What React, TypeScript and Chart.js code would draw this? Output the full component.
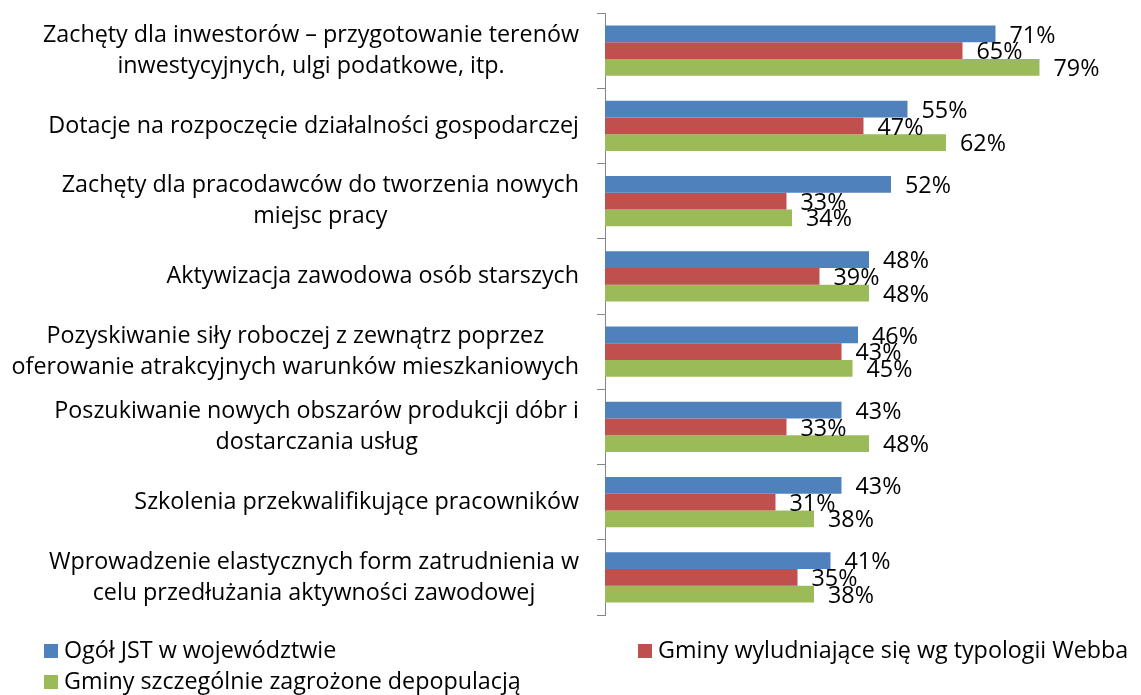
import React, { useEffect, useRef } from "react";
import { Chart, registerables } from "chart.js";

Chart.register(...registerables);

const categories: (string | string[])[] = [
  ["Zachęty dla inwestorów – przygotowanie terenów", "inwestycyjnych, ulgi podatkowe, itp."],
  "Dotacje na rozpoczęcie działalności gospodarczej",
  ["Zachęty dla pracodawców do tworzenia nowych", "miejsc pracy"],
  "Aktywizacja zawodowa osób starszych",
  ["Pozyskiwanie siły roboczej z zewnątrz poprzez", "oferowanie atrakcyjnych warunków mieszkaniowych"],
  ["Poszukiwanie nowych obszarów produkcji dóbr i", "dostarczania usług"],
  "Szkolenia przekwalifikujące pracowników",
  ["Wprowadzenie elastycznych form zatrudnienia w", "celu przedłużania aktywności zawodowej"],
];

const seriesNames = [
  "Ogół JST w województwie",
  "Gminy wyludniające się wg typologii Webba",
  "Gminy szczególnie zagrożone depopulacją",
];

const ogolJst = [71, 55, 52, 48, 46, 43, 43, 41];
const gminyWyludniajace = [65, 47, 33, 39, 43, 33, 31, 35];
const gminyZagrozone = [79, 62, 34, 48, 45, 48, 38, 38];

const seriesColors = ["#4F81BD", "#C0504D", "#9BBB59"];

const FONT_FAMILY = "'Open Sans', Lato, sans-serif";
const FONT_SIZE = 23.3;
const FONT = `${FONT_SIZE}px ${FONT_FAMILY}`;

const categoryLabelsPlugin = {
  id: "categoryLabels",
  afterDraw(chart: any) {
    const ctx = chart.ctx;
    const yScale = chart.scales.y;
    const right = chart.chartArea.left - 26;
    const lineH = 31;
    ctx.save();
    ctx.font = FONT;
    ctx.fillStyle = "#000";
    ctx.textAlign = "center";
    ctx.textBaseline = "middle";
    categories.forEach((lab, i) => {
      const lines = Array.isArray(lab) ? lab : [lab];
      const maxW = Math.max(...lines.map((l) => ctx.measureText(l).width));
      const cx = right - maxW / 2;
      const py = yScale.getPixelForValue(i);
      lines.forEach((l, j) => {
        const y = py + (j - (lines.length - 1) / 2) * lineH;
        ctx.fillText(l, cx, y);
      });
    });
    ctx.restore();
  },
};

const valueLabelsPlugin = {
  id: "valueLabels",
  afterDatasetsDraw(chart: any) {
    const ctx = chart.ctx;
    ctx.save();
    ctx.font = FONT;
    ctx.fillStyle = "#000";
    ctx.textAlign = "left";
    ctx.textBaseline = "middle";
    chart.data.datasets.forEach((ds: any, di: number) => {
      const meta = chart.getDatasetMeta(di);
      meta.data.forEach((el: any, i: number) => {
        ctx.fillText(`${ds.data[i]}%`, el.x + 14, el.y + 2);
      });
    });
    ctx.restore();
  },
};

const legendPlugin = {
  id: "customLegend",
  afterDraw(chart: any) {
    const ctx = chart.ctx;
    const positions = [
      { x: 44, y: 651 },
      { x: 638, y: 651 },
      { x: 44, y: 682 },
    ];
    ctx.save();
    ctx.font = FONT;
    ctx.textAlign = "left";
    ctx.textBaseline = "middle";
    chart.data.datasets.forEach((ds: any, di: number) => {
      const p = positions[di];
      ctx.fillStyle = ds.backgroundColor;
      ctx.fillRect(p.x, p.y - 7, 14, 14);
      ctx.fillStyle = "#000";
      ctx.fillText(ds.label, p.x + 20, p.y);
    });
    ctx.restore();
  },
};

export default function App() {
  const canvasRef = useRef<HTMLCanvasElement | null>(null);

  useEffect(() => {
    document.body.style.margin = "0";
    let chart: Chart | null = null;
    let cancelled = false;
    const build = () => {
      if (cancelled || !canvasRef.current) return;
      chart = new Chart(canvasRef.current, {
        type: "bar",
        data: {
          labels: categories as any,
          datasets: [
            { label: seriesNames[0], data: ogolJst, backgroundColor: seriesColors[0] },
            { label: seriesNames[1], data: gminyWyludniajace, backgroundColor: seriesColors[1] },
            { label: seriesNames[2], data: gminyZagrozone, backgroundColor: seriesColors[2] },
          ],
        },
        options: {
          indexAxis: "y",
          animation: false,
          responsive: false,
          maintainAspectRatio: false,
          events: [],
          layout: { padding: { top: 13, bottom: 80, left: 0, right: 41 } },
          datasets: {
            bar: { categoryPercentage: 0.667, barPercentage: 1, borderWidth: 0 },
          },
          plugins: {
            legend: { display: false },
            tooltip: { enabled: false },
            title: { display: false },
          },
          scales: {
            x: {
              display: false,
              min: 0,
              max: 90,
            },
            y: {
              type: "category",
              offset: true,
              afterFit(scale: any) {
                scale.width = 605;
              },
              ticks: { display: false },
              grid: {
                display: true,
                offset: true,
                drawOnChartArea: false,
                drawTicks: true,
                tickLength: 8,
                color: "#868686",
                lineWidth: 1,
              },
              border: { display: true, color: "#868686", width: 1 },
            },
          },
        },
        plugins: [valueLabelsPlugin, categoryLabelsPlugin, legendPlugin],
      });
    };
    const fontsApi = (document as any).fonts;
    if (fontsApi && fontsApi.load) {
      fontsApi.load(FONT).then(build, build);
    } else {
      build();
    }
    return () => {
      cancelled = true;
      if (chart) chart.destroy();
    };
  }, []);

  return (
    <div style={{ width: 1141, height: 695, background: "#fff" }}>
      <canvas ref={canvasRef} width={1141} height={695} style={{ display: "block" }} />
    </div>
  );
}
